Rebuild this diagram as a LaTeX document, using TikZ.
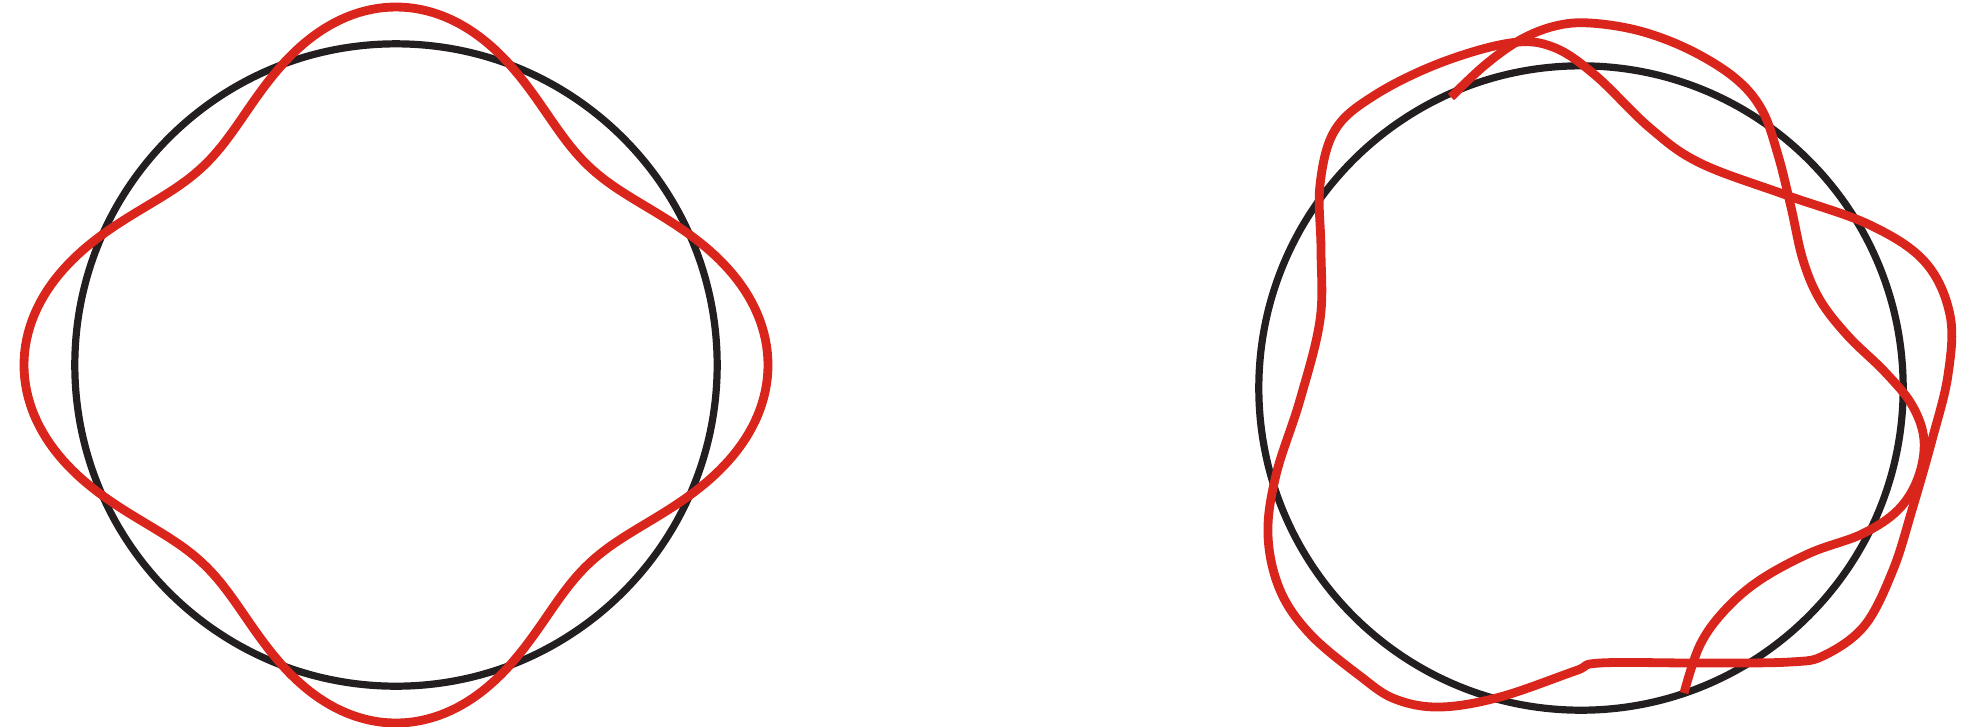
\documentclass[tikz,border=0pt]{standalone}
\definecolor{wred}{RGB}{218,37,29}
\definecolor{cblack}{RGB}{35,31,32}
\begin{document}
\begin{tikzpicture}[x=0.01cm,y=-0.01cm,
  circ/.style={draw=cblack, line width=0.072cm},
  wave/.style={draw=wred, line width=0.088cm, line join=round}]
\useasboundingbox (0,0) rectangle (1971,726);
% left figure
\draw[circ] (396,365) circle[radius=3.21cm];
\draw[wave] plot[domain=0:360,samples=361]
  ({396+(321+44*cos(4*\x)+7*cos(2*\x))*cos(\x)},{365-(321+44*cos(4*\x)+7*cos(2*\x))*sin(\x)}) -- cycle;
% right figure
\draw[circ] (1581,388) circle[radius=3.22cm];
% closed wobbly loop
\draw[wave] plot[smooth cycle, tension=0.6] coordinates {
 (1510,43) (1553,47) (1595,75) (1650,128) (1700,163) (1786,195)
 (1870,225) (1925,262) (1950,315) (1948,375) (1932,440) (1912,510)
 (1893,570) (1865,625) (1825,655) (1790,662) (1700,663) (1600,663)
 (1575,671) (1500,697) (1440,707) (1395,699) (1360,676) (1310,634)
 (1280,590) (1268,535) (1276,475) (1300,400) (1320,320) (1321,250)
 (1320,185) (1335,130) (1375,95) (1440,63)};
% open strand
\draw[wave] plot[smooth, tension=0.6] coordinates {
 (1451,97) (1485,65) (1520,40) (1555,26) (1590,23) (1640,31) (1690,50)
 (1735,78) (1762,110) (1778,155) (1791,207) (1803,260) (1820,300)
 (1848,336) (1885,372) (1912,405) (1924,440) (1918,478) (1898,510)
 (1862,534) (1810,553) (1760,580) (1725,610) (1700,645) (1684,693)};
\end{tikzpicture}
\end{document}
